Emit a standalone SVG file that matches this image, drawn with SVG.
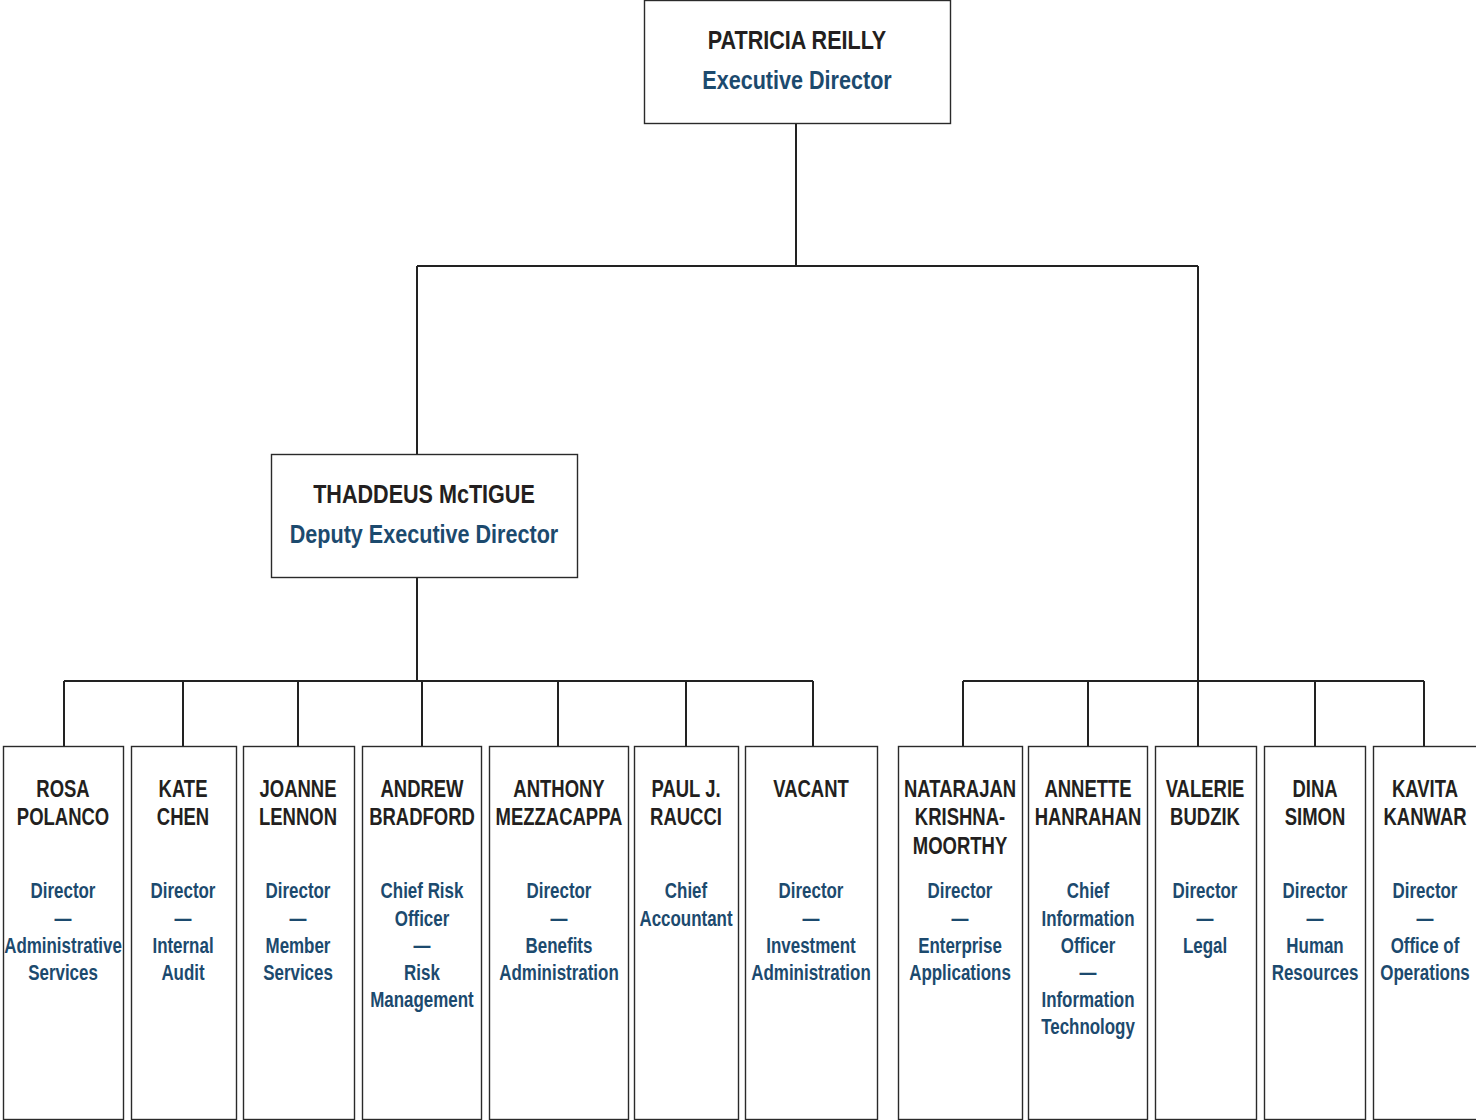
<svg xmlns="http://www.w3.org/2000/svg" width="1476" height="1120" viewBox="0 0 1476 1120">
<style>
.box{fill:#fff;stroke:#2a2a2a;stroke-width:1.4}
.con{fill:none;stroke:#222;stroke-width:2}
text{font-family:"Liberation Sans",Arial,sans-serif;font-weight:bold;text-anchor:middle}
.nm{fill:#231f20;font-size:24px}
.tt{fill:#1c4a6e;font-size:22px}
.big{font-size:26px}
</style>
<rect width="1476" height="1120" fill="#fff"/>
<g id="connectors">
<path class="con" d="M796 123V266M417 266H1198M417 266V454M1198 266V746"/>
<path class="con" d="M417 577V681M64 681H813M64 681V746M183 681V746M298 681V746M422 681V746M558 681V746M686 681V746M813 681V746"/>
<path class="con" d="M963 681H1424M963 681V746M1088 681V746M1315 681V746M1424 681V746"/>
</g>
<g id="patricia">
<rect class="box" x="644.5" y="0.5" width="306" height="123"/>
<g transform="translate(797 0) scale(0.83 1)">
<text class="nm big" x="0" y="49">PATRICIA REILLY</text>
<text class="tt big" x="0" y="89">Executive Director</text>
</g>
</g>
<g id="thaddeus">
<rect class="box" x="271.5" y="454.5" width="306" height="123"/>
<g transform="translate(424 0) scale(0.83 1)">
<text class="nm big" x="0" y="503">THADDEUS McTIGUE</text>
<text class="tt big" x="0" y="543">Deputy Executive Director</text>
</g>
</g>
<g id="rosa">
<rect class="box" x="3.5" y="746.5" width="120" height="373"/>
<g transform="translate(63 0) scale(0.77 1)">
<text class="nm" x="0" y="797">ROSA</text><text class="nm" x="0" y="825">POLANCO</text>
<text class="tt" x="0" y="898">Director</text><text class="tt" x="0" y="926">—</text><text class="tt" x="0" y="953">Administrative</text><text class="tt" x="0" y="980">Services</text>
</g>
</g>
<g id="kate">
<rect class="box" x="131.5" y="746.5" width="105" height="373"/>
<g transform="translate(183 0) scale(0.77 1)">
<text class="nm" x="0" y="797">KATE</text><text class="nm" x="0" y="825">CHEN</text>
<text class="tt" x="0" y="898">Director</text><text class="tt" x="0" y="926">—</text><text class="tt" x="0" y="953">Internal</text><text class="tt" x="0" y="980">Audit</text>
</g>
</g>
<g id="joanne">
<rect class="box" x="243.5" y="746.5" width="111" height="373"/>
<g transform="translate(298 0) scale(0.77 1)">
<text class="nm" x="0" y="797">JOANNE</text><text class="nm" x="0" y="825">LENNON</text>
<text class="tt" x="0" y="898">Director</text><text class="tt" x="0" y="926">—</text><text class="tt" x="0" y="953">Member</text><text class="tt" x="0" y="980">Services</text>
</g>
</g>
<g id="andrew">
<rect class="box" x="362.5" y="746.5" width="119" height="373"/>
<g transform="translate(422 0) scale(0.77 1)">
<text class="nm" x="0" y="797">ANDREW</text><text class="nm" x="0" y="825">BRADFORD</text>
<text class="tt" x="0" y="898">Chief Risk</text><text class="tt" x="0" y="926">Officer</text><text class="tt" x="0" y="953">—</text><text class="tt" x="0" y="980">Risk</text><text class="tt" x="0" y="1007">Management</text>
</g>
</g>
<g id="anthony">
<rect class="box" x="489.5" y="746.5" width="139" height="373"/>
<g transform="translate(559 0) scale(0.77 1)">
<text class="nm" x="0" y="797">ANTHONY</text><text class="nm" x="0" y="825">MEZZACAPPA</text>
<text class="tt" x="0" y="898">Director</text><text class="tt" x="0" y="926">—</text><text class="tt" x="0" y="953">Benefits</text><text class="tt" x="0" y="980">Administration</text>
</g>
</g>
<g id="paul">
<rect class="box" x="634.5" y="746.5" width="104" height="373"/>
<g transform="translate(686 0) scale(0.77 1)">
<text class="nm" x="0" y="797">PAUL J.</text><text class="nm" x="0" y="825">RAUCCI</text>
<text class="tt" x="0" y="898">Chief</text><text class="tt" x="0" y="926">Accountant</text>
</g>
</g>
<g id="vacant">
<rect class="box" x="745.5" y="746.5" width="132" height="373"/>
<g transform="translate(811 0) scale(0.77 1)">
<text class="nm" x="0" y="797">VACANT</text>
<text class="tt" x="0" y="898">Director</text><text class="tt" x="0" y="926">—</text><text class="tt" x="0" y="953">Investment</text><text class="tt" x="0" y="980">Administration</text>
</g>
</g>
<g id="natarajan">
<rect class="box" x="898.5" y="746.5" width="124" height="373"/>
<g transform="translate(960 0) scale(0.77 1)">
<text class="nm" x="0" y="797">NATARAJAN</text><text class="nm" x="0" y="825">KRISHNA-</text><text class="nm" x="0" y="854">MOORTHY</text>
<text class="tt" x="0" y="898">Director</text><text class="tt" x="0" y="926">—</text><text class="tt" x="0" y="953">Enterprise</text><text class="tt" x="0" y="980">Applications</text>
</g>
</g>
<g id="annette">
<rect class="box" x="1028.5" y="746.5" width="119" height="373"/>
<g transform="translate(1088 0) scale(0.77 1)">
<text class="nm" x="0" y="797">ANNETTE</text><text class="nm" x="0" y="825">HANRAHAN</text>
<text class="tt" x="0" y="898">Chief</text><text class="tt" x="0" y="926">Information</text><text class="tt" x="0" y="953">Officer</text><text class="tt" x="0" y="980">—</text><text class="tt" x="0" y="1007">Information</text><text class="tt" x="0" y="1034">Technology</text>
</g>
</g>
<g id="valerie">
<rect class="box" x="1155.5" y="746.5" width="101" height="373"/>
<g transform="translate(1205 0) scale(0.77 1)">
<text class="nm" x="0" y="797">VALERIE</text><text class="nm" x="0" y="825">BUDZIK</text>
<text class="tt" x="0" y="898">Director</text><text class="tt" x="0" y="926">—</text><text class="tt" x="0" y="953">Legal</text>
</g>
</g>
<g id="dina">
<rect class="box" x="1264.5" y="746.5" width="101" height="373"/>
<g transform="translate(1315 0) scale(0.77 1)">
<text class="nm" x="0" y="797">DINA</text><text class="nm" x="0" y="825">SIMON</text>
<text class="tt" x="0" y="898">Director</text><text class="tt" x="0" y="926">—</text><text class="tt" x="0" y="953">Human</text><text class="tt" x="0" y="980">Resources</text>
</g>
</g>
<g id="kavita">
<rect class="box" x="1373.5" y="746.5" width="104" height="373"/>
<g transform="translate(1425 0) scale(0.77 1)">
<text class="nm" x="0" y="797">KAVITA</text><text class="nm" x="0" y="825">KANWAR</text>
<text class="tt" x="0" y="898">Director</text><text class="tt" x="0" y="926">—</text><text class="tt" x="0" y="953">Office of</text><text class="tt" x="0" y="980">Operations</text>
</g>
</g>
</svg>
